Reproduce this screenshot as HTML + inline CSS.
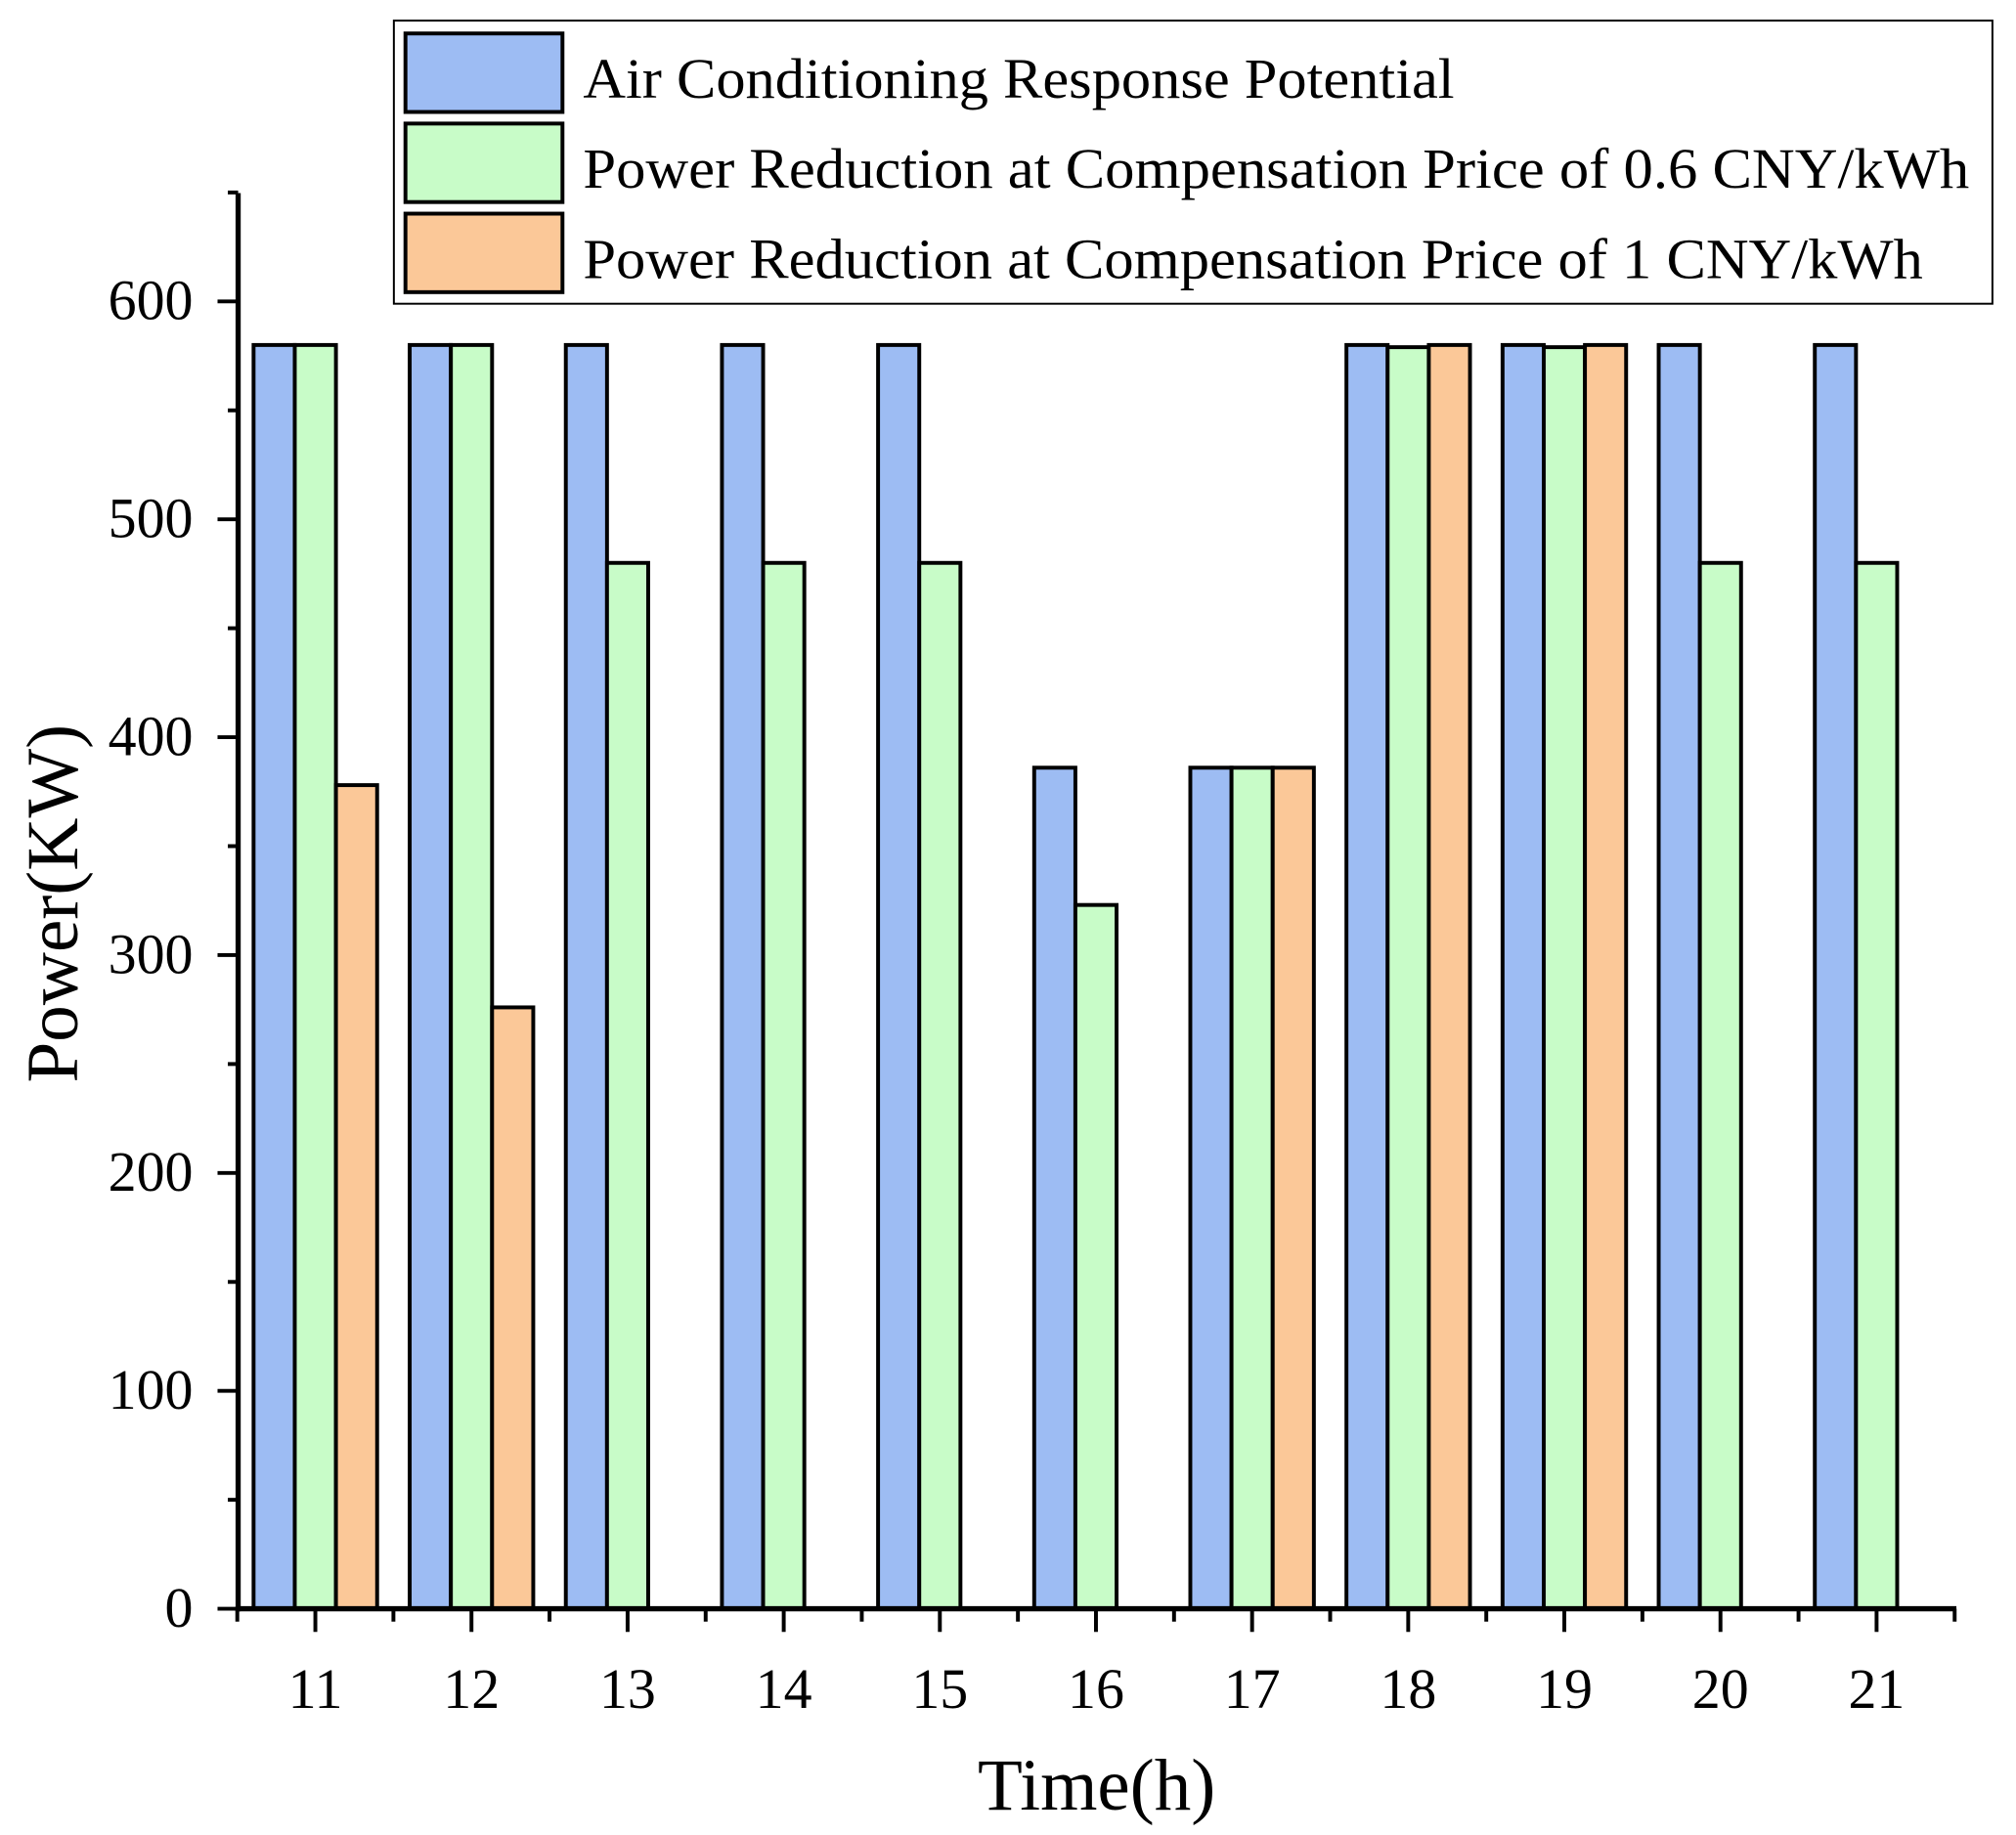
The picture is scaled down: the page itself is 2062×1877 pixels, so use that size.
<!DOCTYPE html>
<html><head><meta charset="utf-8"><style>html,body{margin:0;padding:0;background:#fff}svg{display:block}</style></head>
<body>
<svg id="chart" width="2062" height="1877" viewBox="0 0 1566.3 1425.8" xmlns="http://www.w3.org/2000/svg" font-family="'Liberation Serif', serif">
<rect width="1566.3" height="1425.8" fill="#fff"/>
<g id="bars"></g>
<g id="axes"></g>
<g>
 <rect x="306" y="16" width="1242" height="220" fill="#fff" stroke="#000" stroke-width="1.5"/>
 <rect x="315" y="26" width="122" height="61" fill="#9dbcf3" stroke="#000" stroke-width="3"/>
 <rect x="315" y="96" width="122" height="61" fill="#c8fcc8" stroke="#000" stroke-width="3"/>
 <rect x="315" y="166" width="122" height="61" fill="#fbc898" stroke="#000" stroke-width="3"/>
 <text x="453" y="76" font-size="44" textLength="677" lengthAdjust="spacingAndGlyphs">Air Conditioning Response Potential</text>
 <text x="453" y="146" font-size="44" textLength="1077" lengthAdjust="spacingAndGlyphs">Power Reduction at Compensation Price of 0.6 CNY/kWh</text>
 <text x="453" y="216" font-size="44" textLength="1041" lengthAdjust="spacingAndGlyphs">Power Reduction at Compensation Price of 1 CNY/kWh</text>
</g>
<text x="852" y="1406" font-size="57" text-anchor="middle">Time(h)</text>
<text transform="translate(60,702) rotate(-90)" font-size="57" text-anchor="middle">Power(KW)</text>
</svg>
<script>
const categories = ["11","12","13","14","15","16","17","18","19","20","21"];
const potential = [580,580,580,580,580,386,386,580,580,580,580];
const price06 = [580,580,480,480,480,323,386,579,579,480,480];
const price1 = [378,276,0,0,0,0,386,580,580,0,0];
const yTicks = [0,100,200,300,400,500,600];
const NS = "http://www.w3.org/2000/svg";
const x0 = 185, x1 = 1520, yBase = 1250, yTop = 150;
const firstC = 245, step = 121.3, bw = 32;
function xPos(i){ return firstC + i*step; }
function yPos(v){ return yBase - v*1.693; }
function mk(tag, attrs, parent){ const e=document.createElementNS(NS,tag); for(const k in attrs) e.setAttribute(k,attrs[k]); parent.appendChild(e); return e; }
const bars = document.getElementById('bars');
const series = [[potential,"#9dbcf3",-1,"potential"],[price06,"#c8fcc8",0,"price-0-6"],[price1,"#fbc898",1,"price-1"]];
series.forEach(s=>{
  s[0].forEach((v,i)=>{
    if(v<=0) return;
    const cx = xPos(i) + s[2]*bw;
    const r = mk('rect',{x:cx-bw/2,y:yPos(v),width:bw,height:yBase-yPos(v),fill:s[1],stroke:"#000","stroke-width":3},bars);
    
    
  });
});
const ax = document.getElementById('axes');
const yl = mk('line',{x1:x0,y1:yTop,x2:x0,y2:yBase+2,stroke:"#000","stroke-width":4},ax);


const xl = mk('line',{x1:x0-2,y1:yBase,x2:x1,y2:yBase,stroke:"#000","stroke-width":4},ax);


for(let v=0; v<=650; v+=50){
  const major = v%100===0;
  mk('line',{x1:x0-(major?16:8),y1:yPos(v),x2:x0,y2:yPos(v),stroke:"#000","stroke-width":3},ax);
}
yTicks.forEach(v=>{
  const t = mk('text',{x:150,y:yPos(v)+14,"font-size":44,"text-anchor":"end"},ax);
  t.textContent = v;
  
  
});
categories.forEach((c,i)=>{
  mk('line',{x1:xPos(i),y1:yBase,x2:xPos(i),y2:yBase+18,stroke:"#000","stroke-width":3},ax);
  mk('line',{x1:xPos(i)-step/2,y1:yBase,x2:xPos(i)-step/2,y2:yBase+10,stroke:"#000","stroke-width":3},ax);
  const t = mk('text',{x:xPos(i),y:1327,"font-size":44,"text-anchor":"middle"},ax);
  t.textContent = c;
  
  
});
mk('line',{x1:xPos(categories.length-1)+step/2,y1:yBase,x2:xPos(categories.length-1)+step/2,y2:yBase+10,stroke:"#000","stroke-width":3},ax);
</script>
</body></html>
